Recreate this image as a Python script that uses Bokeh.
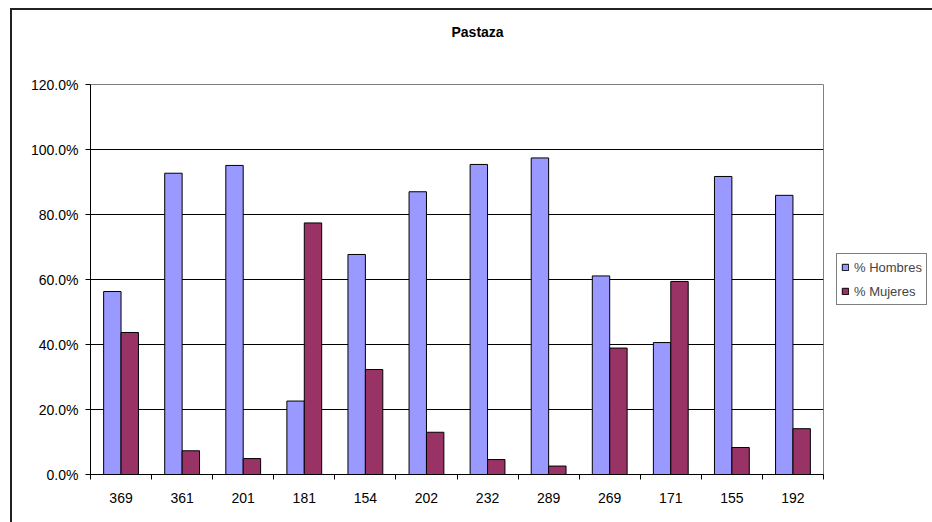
import numpy as np
from bokeh.plotting import figure
from bokeh.models import (ColumnDataSource, FixedTicker, NumeralTickFormatter, Legend,
                          LegendItem, Range1d, Title)
from bokeh.embed import file_html
from bokeh.resources import INLINE

# ---- data ----
categories = ["369", "361", "201", "181", "154", "202", "232", "289", "269", "171", "155", "192"]
hombres = [0.563, 0.927, 0.951, 0.226, 0.677, 0.870, 0.954, 0.974, 0.611, 0.406, 0.917, 0.859]
mujeres = [0.437, 0.073, 0.049, 0.774, 0.323, 0.130, 0.046, 0.026, 0.389, 0.594, 0.083, 0.141]
y_ticks = [0.0, 0.2, 0.4, 0.6, 0.8, 1.0, 1.2]
title_text = "Pastaza"
series_names = ["% Hombres", "% Mujeres"]

FONT = "Liberation Sans"
FS = "14px"
BAR_W = 0.285

n = len(categories)
centers = np.arange(n) + 0.5
src = ColumnDataSource(dict(
    xh=centers - BAR_W / 2, xm=centers + BAR_W / 2,
    h=hombres, m=mujeres, cat=categories))

p = figure(title=None, frame_width=733, frame_height=390, x_range=Range1d(0, n),
           y_range=Range1d(0, 1.2), output_backend="svg", toolbar_location=None,
           min_border_left=78, min_border_top=74, min_border_bottom=48, min_border_right=109)
p.styles = {"margin-left": "10px", "margin-top": "8px",
            "border-left": "2px solid #222222", "border-top": "2px solid #222222",
            "border-right": "0px none", "border-bottom": "0px none"}

p.outline_line_color = "#808080"
p.outline_line_width = 1
p.background_fill_color = "white"
p.border_fill_color = "white"

# spacer (nearest the frame) then the real title above it
p.add_layout(Title(text=" ", text_font=FONT, text_font_size=FS, standoff=27), "above")
p.add_layout(Title(text=title_text, text_font=FONT, text_font_size=FS, text_font_style="bold",
                   text_color="#000000", align="left", offset=361, standoff=0), "above")

p.xgrid.visible = False
p.ygrid.grid_line_color = "#000000"
p.ygrid.grid_line_width = 1
p.ygrid.ticker = FixedTicker(ticks=y_ticks)

rh = p.vbar(x="xh", top="h", width=BAR_W, bottom=0, source=src,
            fill_color="#9999FF", line_color="#000000", line_width=1)
rm = p.vbar(x="xm", top="m", width=BAR_W, bottom=0, source=src,
            fill_color="#993366", line_color="#000000", line_width=1)

# y axis
p.yaxis.ticker = FixedTicker(ticks=y_ticks)
p.yaxis.formatter = NumeralTickFormatter(format="0.0%")
p.yaxis.major_tick_out = 5
p.yaxis.major_tick_in = 0
p.yaxis.minor_tick_line_color = None
p.yaxis.axis_line_color = "#000000"
p.yaxis.major_tick_line_color = "#000000"
p.yaxis.major_label_text_font = FONT
p.yaxis.major_label_text_font_size = FS
p.yaxis.major_label_text_color = "#000000"
p.yaxis.major_label_standoff = 7

# x axis: labels at centers, ticks at boundaries
p.xaxis.ticker = FixedTicker(ticks=list(centers), minor_ticks=list(range(n + 1)))
p.xaxis.major_label_overrides = {float(c): lab for c, lab in zip(centers, categories)}
p.xaxis.major_tick_line_color = None
p.xaxis.major_tick_out = 0
p.xaxis.major_tick_in = 0
p.xaxis.minor_tick_line_color = "#000000"
p.xaxis.minor_tick_out = 5
p.xaxis.minor_tick_in = 0
p.xaxis.axis_line_color = "#000000"
p.xaxis.major_label_text_font = FONT
p.xaxis.major_label_text_font_size = FS
p.xaxis.major_label_text_color = "#000000"
p.xaxis.major_label_standoff = 13

legend = Legend(items=[LegendItem(label=series_names[0], renderers=[rh]),
                       LegendItem(label=series_names[1], renderers=[rm])],
                location=(13, 169), orientation="vertical")
legend.border_line_color = "#000000"
legend.border_line_width = 1
legend.background_fill_color = "white"
legend.label_text_font = FONT
legend.label_text_font_size = "13px"
legend.glyph_width = 8
legend.glyph_height = 8
legend.label_height = 18
legend.spacing = 6
legend.padding = 4
legend.margin = 0
legend.label_standoff = 5
p.add_layout(legend, "right")

open("out.html", "w").write(file_html(p, INLINE))
